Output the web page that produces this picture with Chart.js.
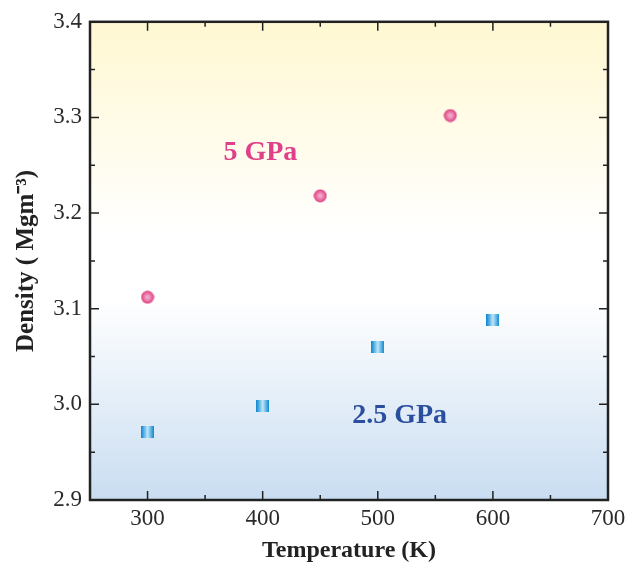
<!DOCTYPE html>
<html>
<head>
<meta charset="utf-8">
<script src="https://cdn.jsdelivr.net/npm/chart.js@4/dist/chart.umd.min.js"></script>
<style>
  html, body { margin: 0; padding: 0; background: #fff; }
  #wrap { width: 637px; height: 566px; }
</style>
</head>
<body>
<div id="wrap"><canvas id="chart" width="637" height="566"></canvas></div>
<script>
// datos
const temps5 = [300, 450, 563];
const dens5 = [3.112, 3.218, 3.302];
const temps25 = [300, 400, 500, 600];
const dens25 = [2.971, 2.998, 3.060, 3.088];
const xTicks = [300, 400, 500, 600, 700];
const yTicks = [2.9, 3.0, 3.1, 3.2, 3.3, 3.4];
const labels = [
    { text: '5 GPa', x: 398, y: 3.263, color: '#e0408a' },
    { text: '2.5 GPa', x: 519, y: 2.988, color: '#2a4f9f' }
];

// marcadores con degradado
function makeCircle() {
    const c = document.createElement('canvas');
    c.width = 14; c.height = 14;
    const g = c.getContext('2d');
    const grad = g.createRadialGradient(7, 7, 1, 7, 7, 6.5);
    grad.addColorStop(0, '#f6a9cc');
    grad.addColorStop(1, '#dc3f80');
    g.fillStyle = grad;
    g.beginPath();
    g.arc(7, 7, 6.5, 0, Math.PI * 2);
    g.fill();
    return c;
}
function makeSquare() {
    const c = document.createElement('canvas');
    c.width = 13; c.height = 12;
    const g = c.getContext('2d');
    const grad = g.createLinearGradient(0, 0, 13, 0);
    grad.addColorStop(0, '#0a86d0');
    grad.addColorStop(0.5, '#bfe6fa');
    grad.addColorStop(1, '#0a86d0');
    g.fillStyle = grad;
    g.fillRect(0, 0, 13, 12);
    return c;
}

const bgPlugin = {
    id: 'bg',
    beforeDraw(chart) {
        const { ctx, chartArea: a } = chart;
        const grad = ctx.createLinearGradient(0, a.top, 0, a.bottom);
        grad.addColorStop(0, '#fff8d2');
        grad.addColorStop(0.45, '#ffffff');
        grad.addColorStop(0.58, '#ffffff');
        grad.addColorStop(1, '#c9ddf1');
        ctx.save();
        ctx.fillStyle = grad;
        ctx.fillRect(a.left, a.top, a.right - a.left, a.bottom - a.top);
        ctx.restore();
    }
};

// marco y marcas hacia adentro
const framePlugin = {
    id: 'frame',
    afterDatasetsDraw(chart) {
        const { ctx, chartArea: a, scales } = chart;
        ctx.save();
        ctx.strokeStyle = '#222';
        ctx.lineWidth = 1.5;
        for (let v = 250; v <= 700; v += 50) {
            const px = scales.x.getPixelForValue(v);
            const len = v % 100 === 0 ? 9 : 5;
            ctx.beginPath();
            ctx.moveTo(px, a.bottom); ctx.lineTo(px, a.bottom - len);
            ctx.moveTo(px, a.top); ctx.lineTo(px, a.top + len);
            ctx.stroke();
        }
        for (let i = 0; i <= 10; i++) {
            const v = 2.9 + i * 0.05;
            const py = scales.y.getPixelForValue(v);
            const len = i % 2 === 0 ? 9 : 5;
            ctx.beginPath();
            ctx.moveTo(a.left, py); ctx.lineTo(a.left + len, py);
            ctx.moveTo(a.right, py); ctx.lineTo(a.right - len, py);
            ctx.stroke();
        }
        ctx.lineWidth = 2.5;
        ctx.strokeRect(a.left, a.top, a.right - a.left, a.bottom - a.top);

        ctx.font = 'bold 28px "Liberation Serif", "Times New Roman", serif';
        ctx.textAlign = 'center';
        ctx.textBaseline = 'middle';
        labels.forEach(l => {
            ctx.fillStyle = l.color;
            ctx.fillText(l.text, scales.x.getPixelForValue(l.x), scales.y.getPixelForValue(l.y));
        });
        ctx.restore();
    }
};

const serif = '"Liberation Serif", "Times New Roman", serif';

new Chart(document.getElementById('chart'), {
    type: 'scatter',
    data: {
        datasets: [
            {
                label: '5 GPa',
                data: temps5.map((t, i) => ({ x: t, y: dens5[i] })),
                pointStyle: makeCircle(),
                pointRadius: 7
            },
            {
                label: '2.5 GPa',
                data: temps25.map((t, i) => ({ x: t, y: dens25[i] })),
                pointStyle: makeSquare(),
                pointRadius: 7
            }
        ]
    },
    options: {
        responsive: false,
        animation: false,
        events: [],
        layout: { padding: { top: 18, right: 29, left: 0, bottom: 0 } },
        plugins: { legend: { display: false }, tooltip: { enabled: false } },
        scales: {
            x: {
                type: 'linear',
                min: 250,
                max: 700,
                afterBuildTicks: s => { s.ticks = xTicks.map(v => ({ value: v })); },
                afterFit: s => { s.height = 66; },
                grid: { display: false, drawTicks: false },
                border: { display: false },
                ticks: {
                    padding: 5,
                    color: '#2a2a2a',
                    font: { family: serif, size: 23 }
                },
                title: {
                    display: true,
                    text: 'Temperature (K)',
                    color: '#222',
                    padding: { top: 0, bottom: 1 },
                    font: { family: serif, size: 24, weight: 'bold' }
                }
            },
            y: {
                type: 'linear',
                min: 2.9,
                max: 3.4,
                afterBuildTicks: s => { s.ticks = yTicks.map(v => ({ value: v })); },
                afterFit: s => { s.width = 90; },
                grid: { display: false, drawTicks: false },
                border: { display: false },
                ticks: {
                    padding: 8,
                    color: '#2a2a2a',
                    font: { family: serif, size: 23 },
                    callback: v => v.toFixed(1)
                },
                title: {
                    display: true,
                    text: 'Density ( Mgm⁻³)',
                    color: '#222',
                    padding: { top: 12, bottom: 0 },
                    font: { family: serif, size: 25, weight: 'bold' }
                }
            }
        }
    },
    plugins: [bgPlugin, framePlugin]
});
</script>
</body>
</html>
